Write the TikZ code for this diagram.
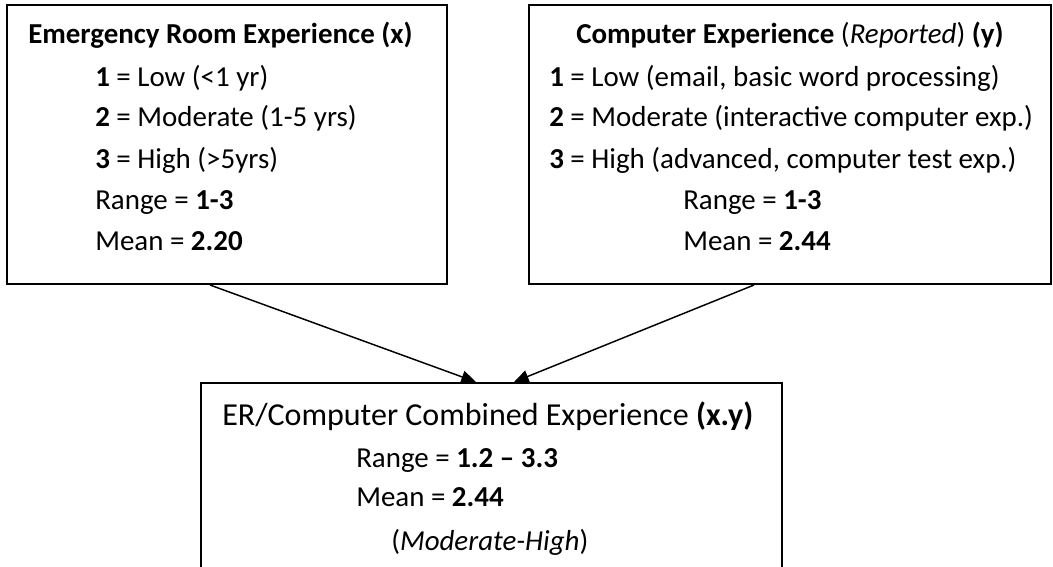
\documentclass[tikz,border=0pt]{standalone}
\usepackage{fontspec}
\setmainfont{Carlito}
\usetikzlibrary{calc,fit,arrows.meta}

\tikzset{
  box/.style={draw=black, line width=1.5pt, inner sep=0pt},
  txt/.style={anchor=base west, inner sep=0pt, font=\fontsize{21.7}{26}\selectfont},
  bigtxt/.style={txt, font=\fontsize{24}{29}\selectfont},
  arr/.style={line width=1.1pt, -{Triangle[length=11pt,width=9.5pt]}},
}

\begin{document}
\begin{tikzpicture}[x=0.75pt,y=-0.75pt]
\useasboundingbox (0,0) rectangle (1053,567);
\clip (0,0) rectangle (1053,567);

% boites
\node[box, fit={(7,5) (447,284)}] (erbox) {};
\node[box, fit={(529,5) (1051,284)}] (compbox) {};
\node[box, fit={(201,383) (782,600)}] (combbox) {};

% experience urgences (x)
\node[txt] (ertitle) at (28,44) {\textbf{Emergency Room Experience (x)}};
\node[txt] (erlow) at (95,87) {\textbf{1} = Low (<1 yr)};
\node[txt] (ermod) at (95,127) {\textbf{2} = Moderate (1-5 yrs)};
\node[txt] (erhigh) at (95,168) {\textbf{3} = High (>5yrs)};
\node[txt] (errange) at (95,209) {Range = \textbf{1-3}};
\node[txt] (ermean) at (95,250) {Mean = \textbf{2.20}};

% experience ordinateur (y)
\node[txt] (comptitle) at (576,44) {\textbf{Computer Experience} (\textit{Reported}) \textbf{(y)}};
\node[txt] (complow) at (549,87) {\textbf{1} = Low (email, basic word processing)};
\node[txt] (compmod) at (549,127) {\textbf{2} = Moderate (interactive computer exp.)};
\node[txt] (comphigh) at (549,168) {\textbf{3} = High (advanced, computer test exp.)};
\node[txt] (comprange) at (683,209) {Range = \textbf{1-3}};
\node[txt] (compmean) at (683,250) {Mean = \textbf{2.44}};

% combinaison (x.y)
\node[bigtxt] (combtitle) at (222,425) {ER/Computer Combined Experience \textbf{(x.y)}};
\node[txt] (combrange) at (356,467) {Range = \textbf{1.2 – 3.3}};
\node[txt] (combmean) at (356,506) {Mean = \textbf{2.44}};
\node[txt] (combnote) at (391,550) {(\textit{Moderate-High})};

% fleches
\draw[arr] ($(erbox.south)+(-17,0)$) -- ($(combbox.north)+(-15.5,0)$);
\draw[arr] ($(compbox.south)+(-36,0)$) -- ($(combbox.north)+(22.5,0)$);
\end{tikzpicture}
\end{document}
